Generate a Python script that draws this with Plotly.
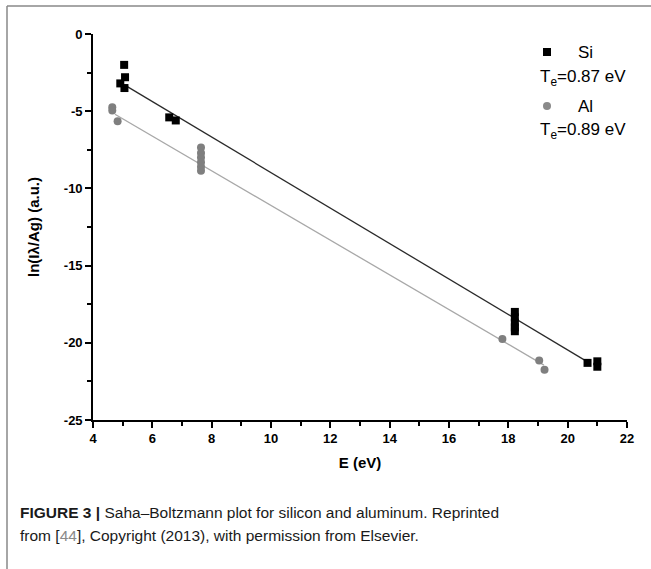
import plotly.graph_objects as go

# Data
si_E = [5.05, 5.08, 4.92, 5.06, 6.57, 6.79, 18.22, 18.22, 18.22, 18.22, 18.22, 20.67, 21.0, 21.0]
si_ln = [-2.0, -2.8, -3.2, -3.5, -5.4, -5.6, -18.0, -18.35, -18.7, -19.0, -19.25, -21.3, -21.2, -21.55]
al_E = [4.65, 4.65, 4.83, 7.64, 7.64, 7.64, 7.64, 7.64, 7.64, 17.8, 19.04, 19.22]
al_ln = [-4.75, -4.95, -5.65, -7.35, -7.7, -8.0, -8.3, -8.6, -8.85, -19.75, -21.15, -21.75]

si_Te = 0.87
al_Te = 0.89
si_intercept = 2.52
al_intercept = 0.13
si_fit_E = [5.13, 20.6]
al_fit_E = [4.74, 19.2]
si_fit_ln = [si_intercept - e / si_Te for e in si_fit_E]
al_fit_ln = [al_intercept - e / al_Te for e in al_fit_E]

x_ticks = [4, 6, 8, 10, 12, 14, 16, 18, 20, 22]
y_ticks = [0, -5, -10, -15, -20, -25]

FONT = "Liberation Sans, Arial, sans-serif"

fig = go.Figure()
fig.add_trace(go.Scatter(x=si_fit_E, y=si_fit_ln, mode="lines",
                         line=dict(color="#2a2a2a", width=1.3), showlegend=False))
fig.add_trace(go.Scatter(x=al_fit_E, y=al_fit_ln, mode="lines",
                         line=dict(color="#a8a8a8", width=1.3), showlegend=False))
fig.add_trace(go.Scatter(x=si_E, y=si_ln, mode="markers",
                         marker=dict(symbol="square", size=8, color="#000000"), showlegend=False))
fig.add_trace(go.Scatter(x=al_E, y=al_ln, mode="markers",
                         marker=dict(symbol="circle", size=8, color="#7f7f7f"), showlegend=False))

axis_common = dict(showline=True, linecolor="#000", linewidth=1.6, ticks="outside",
                   tickcolor="#000", tickwidth=1.6, ticklen=6, showgrid=False, zeroline=False,
                   tickfont=dict(family=FONT, size=13, color="#000", weight="bold"),
                   minor=dict(ticks="outside", ticklen=4, tickwidth=1.6, tickcolor="#000"))

fig.update_xaxes(range=[4, 22], tickvals=x_ticks, ticktext=[str(v) for v in x_ticks],
                 minor_dtick=1, minor_tick0=4,
                 title=dict(text="E (eV)", font=dict(family=FONT, size=15, color="#000", weight="bold"), standoff=12),
                 **axis_common)
fig.update_yaxes(range=[-25, 0], tickvals=y_ticks, ticktext=[str(v) for v in y_ticks],
                 minor_dtick=2.5, minor_tick0=0,
                 title=dict(text="ln(Iλ/Ag) (a.u.)", font=dict(family=FONT, size=15, color="#000", weight="bold"), standoff=21),
                 **axis_common)

L, R, T, B = 93, 24, 34, 149
W, H = 651, 569
pw, ph = W - L - R, H - T - B

def px(xp):
    return (xp - L) / pw

def py(yp):
    return (H - B - yp) / ph

# legend markers (shapes in paper coords)
fig.add_shape(type="rect", xref="paper", yref="paper",
              x0=px(543), x1=px(551), y0=py(56), y1=py(48),
              fillcolor="#000", line=dict(width=0))
fig.add_shape(type="circle", xref="paper", yref="paper",
              x0=px(543), x1=px(551), y0=py(110), y1=py(102),
              fillcolor="#8a8a8a", line=dict(width=0))

leg_font = dict(family=FONT, size=17, color="#000")
for txt, xx, yy in [("Si", 585, 52), ("T<sub>e</sub>=0.87 eV", 583, 78),
                    ("Al", 585, 106), ("T<sub>e</sub>=0.89 eV", 583, 131)]:
    fig.add_annotation(text=txt, x=px(xx), y=py(yy), xref="paper", yref="paper",
                       showarrow=False, xanchor="center", yanchor="middle", font=leg_font)

cap_font = dict(family=FONT, size=15.5, color="#1a1a1a")
fig.add_annotation(text="<b>FIGURE 3 |</b> Saha–Boltzmann plot for silicon and aluminum. Reprinted",
                   x=px(18), y=py(512), xref="paper", yref="paper", showarrow=False,
                   xanchor="left", yanchor="middle", font=cap_font)
fig.add_annotation(text="from [<span style='color:#8a8a8a'>44</span>], Copyright (2013), with permission from Elsevier.",
                   x=px(18), y=py(535), xref="paper", yref="paper", showarrow=False,
                   xanchor="left", yanchor="middle", font=cap_font)

# figure frame
fig.add_shape(type="line", xref="paper", yref="paper", x0=px(7), x1=px(651), y0=py(6), y1=py(6),
              line=dict(color="#888", width=1.5))
fig.add_shape(type="line", xref="paper", yref="paper", x0=px(7), x1=px(7), y0=py(6), y1=py(569),
              line=dict(color="#888", width=1.5))

fig.update_layout(width=W, height=H, margin=dict(l=L, r=R, t=T, b=B),
                  plot_bgcolor="#fff", paper_bgcolor="#fff", showlegend=False)

fig.write_html("out.html")
